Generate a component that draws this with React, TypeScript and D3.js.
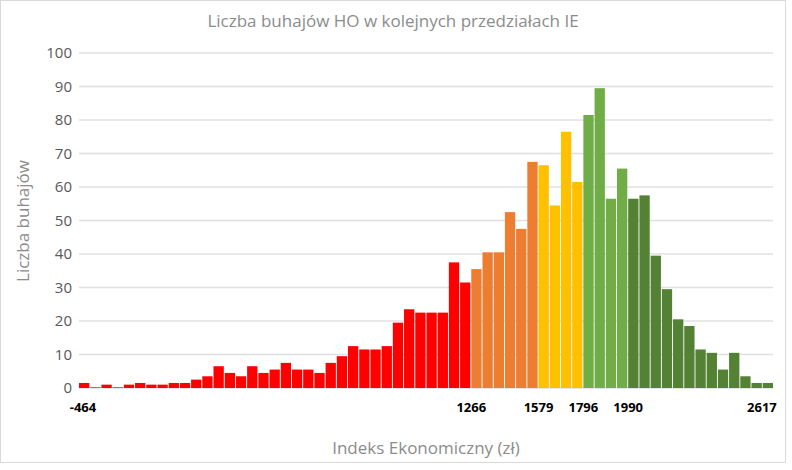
import * as d3 from "d3";

const counts = [
  1.5, 0.2, 1, 0.2, 1, 1.5, 1, 1, 1.5, 1.5, 2.5, 3.5, 6.5, 4.5, 3.5, 6.5, 4.5, 5.5, 7.5, 5.5, 5.5, 4.5, 7.5, 9.5,
  12.5, 11.5, 11.5, 12.5, 19.5, 23.5, 22.5, 22.5, 22.5, 37.5, 31.5,
  35.5, 40.5, 40.5, 52.5, 47.5, 67.5,
  66.5, 54.5, 76.5, 61.5,
  81.5, 89.5, 56.5, 65.5,
  56.5, 57.5, 39.5, 29.5, 20.5, 18.5, 11.5, 10.5, 5.5, 10.5, 3.5, 1.5, 1.5,
];
// group boundaries (bar index where each colour starts) and their colours
const groupStarts = [0, 35, 41, 45, 49];
const groupColors = ["#ff0000", "#ed7d31", "#ffc000", "#70ad47", "#548235"];
const boundaryIdx = [0, 35, 41, 45, 49, 62];
const boundaryLabels = ["-464", "1266", "1579", "1796", "1990", "2617"];
const yTicks = [0, 10, 20, 30, 40, 50, 60, 70, 80, 90, 100];

const W = 792;
const H = 470;
const M = { left: 79, right: 773, top: 53, bottom: 388 };

const App = () => {
  const x = d3.scaleBand<number>().domain(d3.range(counts.length)).range([M.left, M.right]).paddingInner(0.08);
  const y = d3.scaleLinear().domain([0, 100]).range([M.bottom, M.top]);
  const step = x.step();
  const colorOf = (i: number) => groupColors[d3.bisectRight(groupStarts, i) - 1];
  const font = "'Open Sans', sans-serif";

  return (
    <svg width={W} height={H} style={{ position: "absolute", left: 0, top: 0, fontFamily: font }}>
      <rect x={0.5} y={0.5} width={785} height={462} fill="white" stroke="#d9d9d9" />
      <text x={393} y={27} textAnchor="middle" fontSize={17} fill="#8c8c8c">
        Liczba buhajów HO w kolejnych przedziałach IE
      </text>
      {yTicks.map((t) => (
        <g key={t}>
          <line x1={M.left} x2={M.right} y1={y(t)} y2={y(t)} stroke="#e0e0e0" strokeWidth={1.3} />
          <text x={72} y={y(t) + 5} textAnchor="end" fontSize={15} fill="#595959">
            {t}
          </text>
        </g>
      ))}
      {counts.map((c, i) => (
        <rect key={i} x={x(i)} y={y(c)} width={x.bandwidth()} height={y(0) - y(c)} fill={colorOf(i)} />
      ))}
      {boundaryIdx.map((b, k) => {
        const px = M.left + step * b + (k === 0 ? 4 : k === boundaryIdx.length - 1 ? -12 : 0);
        return (
          <text key={k} x={px} y={412} textAnchor="middle" fontSize={13} fontWeight="bold" fill="#000">
            {boundaryLabels[k]}
          </text>
        );
      })}
      <text x={426} y={454} textAnchor="middle" fontSize={17} fill="#8c8c8c">
        Indeks Ekonomiczny (zł)
      </text>
      <text transform="translate(29,221) rotate(-90)" textAnchor="middle" fontSize={17} fill="#8c8c8c">
        Liczba buhajów
      </text>
    </svg>
  );
};

export default App;
